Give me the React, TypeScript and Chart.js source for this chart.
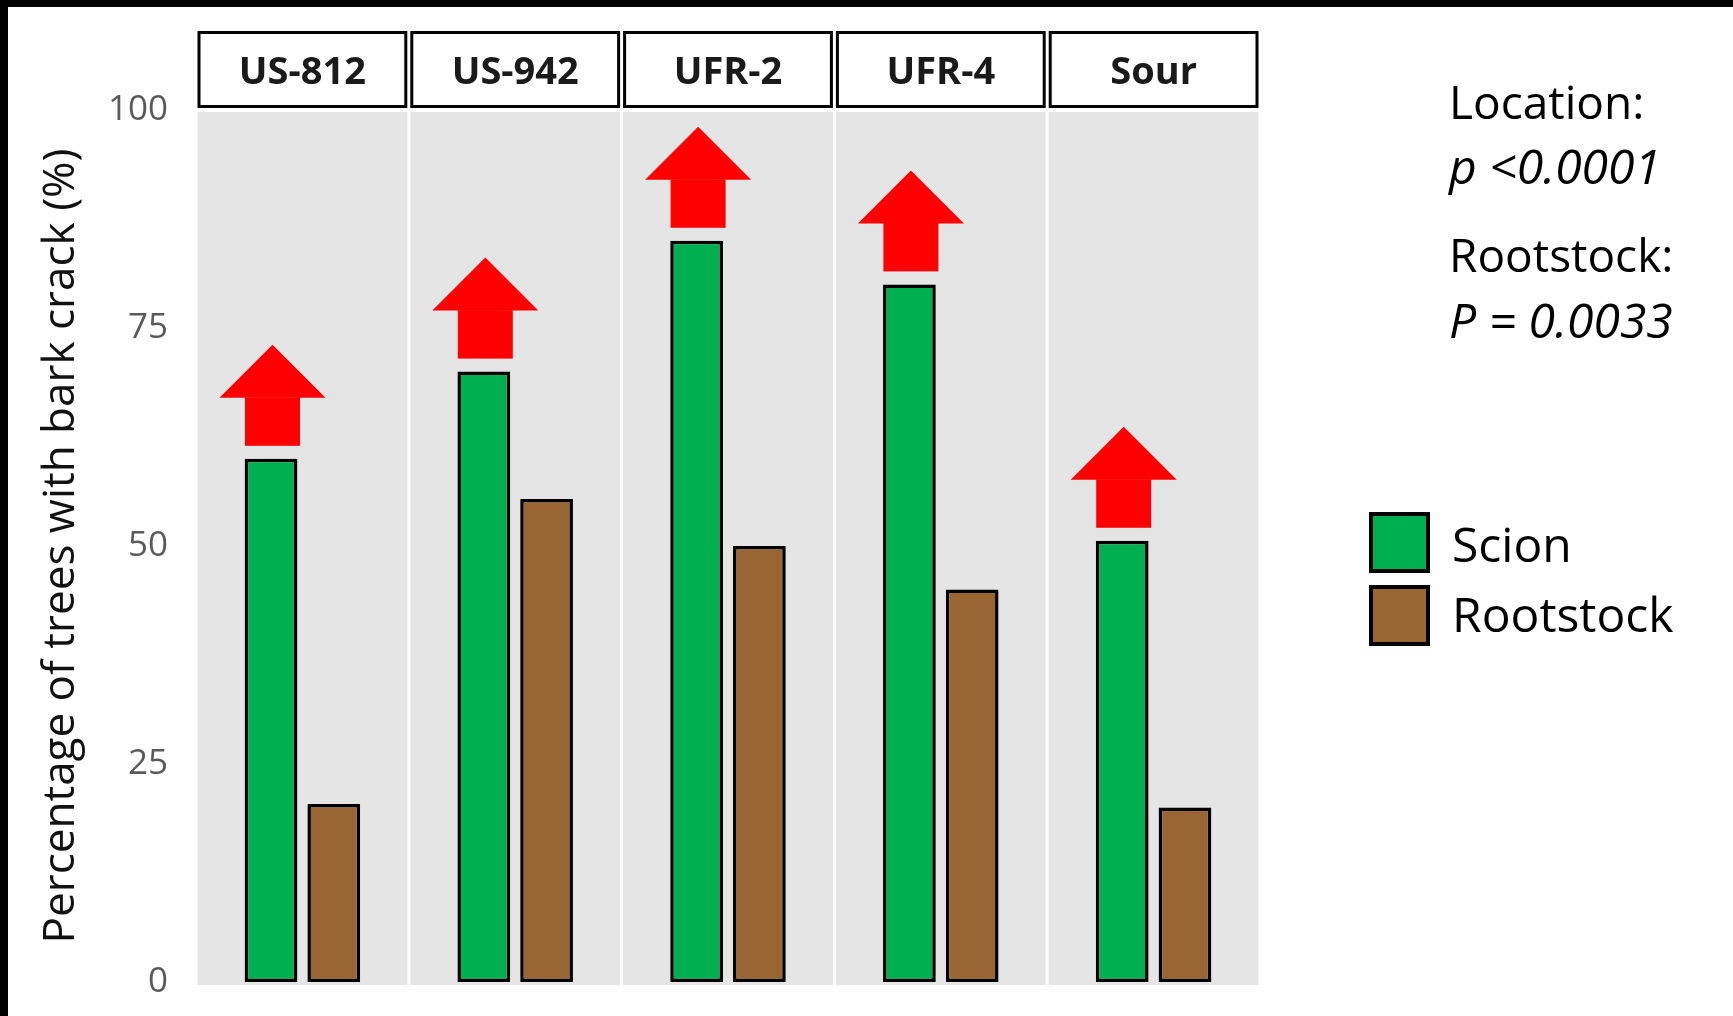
import React, { useEffect, useRef } from "react";
import { Chart, registerables } from "chart.js";

Chart.register(...registerables);

// ---- data ----
const categories = ["US-812", "US-942", "UFR-2", "UFR-4", "Sour"];
const scionValues = [60, 70, 85, 80, 50.6];
const rootstockValues = [20.4, 55.4, 50, 45, 20];
const seriesNames = ["Scion", "Rootstock"];
const yMin = 0;
const yMax = 100;
const yStep = 25;
const yTitle = "Percentage of trees with bark crack (%)";
const statLabels = ["Location:", "Rootstock:"];
const statValues = ["p <0.0001", "P = 0.0033"];

// ---- styles ----
const GREEN = "#00B050";
const BROWN = "#996633";
const PANEL = "#e5e5e5";
const FONT = "'Open Sans', 'Noto Sans', sans-serif";

const framePlugin = {
  id: "frame",
  beforeDraw(chart: any) {
    const { ctx, width, height } = chart;
    ctx.save();
    ctx.fillStyle = "#ffffff";
    ctx.fillRect(0, 0, width, height);
    ctx.fillStyle = "#000000";
    ctx.fillRect(0, 0, width, 7);
    ctx.fillRect(0, 0, 8, height);
    ctx.restore();
  },
};

const panelPlugin = {
  id: "panels",
  beforeDatasetsDraw(chart: any) {
    const { ctx, chartArea } = chart;
    const xs = chart.scales.x;
    const n = categories.length;
    const w = (chartArea.right - chartArea.left) / n;
    ctx.save();
    for (let i = 0; i < n; i++) {
      const c = xs.getPixelForValue(i);
      const l = c - w / 2 + 1.5;
      const r = c + w / 2 - 1.5;
      ctx.fillStyle = PANEL;
      ctx.fillRect(l, chartArea.top + 2, r - l, chartArea.bottom + 3 - chartArea.top - 2);
      // strip box
      ctx.fillStyle = "#ffffff";
      ctx.fillRect(l, 31, r - l, 77);
      ctx.lineWidth = 3;
      ctx.strokeStyle = "#000000";
      ctx.strokeRect(l + 1.5, 32.5, r - l - 3, 74);
      ctx.fillStyle = "#1a1a1a";
      ctx.font = `bold 38px ${FONT}`;
      ctx.textAlign = "center";
      ctx.textBaseline = "alphabetic";
      ctx.fillText(categories[i], c, 84);
    }
    ctx.restore();
  },
};

const arrowPlugin = {
  id: "arrows",
  afterDatasetsDraw(chart: any) {
    const { ctx } = chart;
    const meta = chart.getDatasetMeta(0);
    ctx.save();
    ctx.fillStyle = "#ff0000";
    meta.data.forEach((el: any) => {
      const { x, y } = el.getProps(["x", "y"], true);
      const cx = x + 1.5;
      const bottom = y - 13;
      const shaftTop = bottom - 48;
      ctx.fillRect(cx - 27.5, shaftTop - 0.5, 55, 48.5);
      ctx.beginPath();
      ctx.moveTo(cx - 53, shaftTop);
      ctx.lineTo(cx, shaftTop - 53);
      ctx.lineTo(cx + 53, shaftTop);
      ctx.closePath();
      ctx.fill();
    });
    ctx.restore();
  },
};

const notesPlugin = {
  id: "notes",
  afterDraw(chart: any) {
    const { ctx } = chart;
    ctx.save();
    ctx.fillStyle = "#000000";
    ctx.textAlign = "left";
    ctx.textBaseline = "alphabetic";
    const labelBase = [119, 272];
    const valueBase = [184, 338];
    statLabels.forEach((t, i) => {
      ctx.font = `46px ${FONT}`;
      ctx.fillText(t, 1449, labelBase[i]);
      ctx.font = `italic 48px ${FONT}`;
      ctx.fillText(statValues[i], 1449, valueBase[i]);
    });
    // legend
    const boxTop = [512, 585];
    const textBase = [562, 632];
    chart.data.datasets.forEach((ds: any, i: number) => {
      ctx.fillStyle = ds.backgroundColor;
      ctx.fillRect(1369, boxTop[i], 61, 61);
      ctx.lineWidth = 4;
      ctx.strokeStyle = "#000000";
      ctx.strokeRect(1371, boxTop[i] + 2, 57, 57);
      ctx.fillStyle = "#000000";
      ctx.font = `48px ${FONT}`;
      ctx.fillText(ds.label, 1452, textBase[i]);
    });
    ctx.restore();
  },
};

export default function App() {
  const ref = useRef<HTMLCanvasElement | null>(null);
  useEffect(() => {
    if (!ref.current) return;
    const chart = new Chart(ref.current, {
      type: "bar",
      data: {
        labels: categories,
        datasets: [
          {
            label: seriesNames[0],
            data: scionValues,
            backgroundColor: GREEN,
            borderColor: "#000000",
            borderWidth: 3.5,
            borderSkipped: false,
            categoryPercentage: 0.59,
            barPercentage: 0.84,
          },
          {
            label: seriesNames[1],
            data: rootstockValues,
            backgroundColor: BROWN,
            borderColor: "#000000",
            borderWidth: 3.5,
            borderSkipped: false,
            categoryPercentage: 0.59,
            barPercentage: 0.84,
          },
        ],
      },
      options: {
        animation: false,
        responsive: false,
        devicePixelRatio: 1,
        layout: { padding: { top: 110, right: 473, bottom: 34, left: 0 } },
        plugins: { legend: { display: false }, tooltip: { enabled: false } },
        scales: {
          x: { display: false, grid: { display: false } },
          y: {
            min: yMin,
            max: yMax,
            grid: { display: false, drawTicks: false },
            border: { display: false },
            ticks: {
              stepSize: yStep,
              padding: 28,
              color: "#5a5a5a",
              font: { family: FONT, size: 35 },
            },
            title: {
              display: true,
              text: yTitle,
              color: "#111111",
              font: { family: FONT, size: 44 },
              padding: { top: 35, bottom: 0 },
            },
            afterFit: (scale: any) => {
              scale.width = 196;
              scale.paddingTop = 0;
              scale.paddingBottom = 0;
            },
          },
        },
      },
      plugins: [framePlugin, panelPlugin, arrowPlugin, notesPlugin],
    });
    return () => chart.destroy();
  }, []);
  return (
    <div style={{ position: "fixed", left: 0, top: 0, width: 1733, height: 1016, background: "#fff" }}>
      <canvas ref={ref} width={1733} height={1016} style={{ display: "block", width: 1733, height: 1016 }} />
    </div>
  );
}
